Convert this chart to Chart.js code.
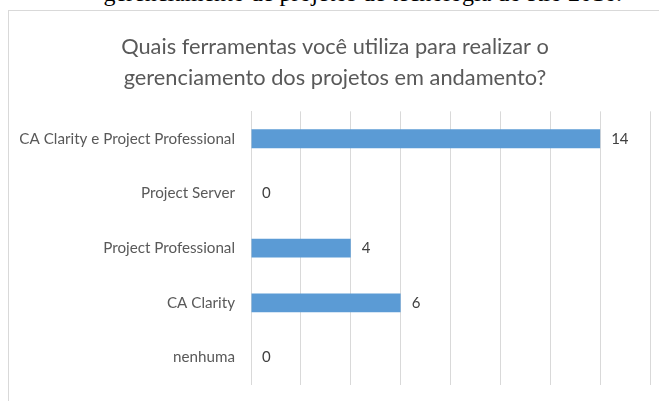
<!DOCTYPE html>
<html>
<head>
<meta charset="utf-8">
<script src="https://cdn.jsdelivr.net/npm/chart.js@4.4.0/dist/chart.umd.min.js"></script>
<style>
  html, body { margin: 0; padding: 0; background: #fff; overflow: hidden; width: 659px; height: 401px; }
  #topo {
    position: absolute; right: 37px; top: -20px;
    font-family: "Liberation Serif", serif; font-size: 24px; color: #000;
    white-space: nowrap;
  }
  #caixa {
    position: absolute; left: 8px; top: 10px; width: 660px; height: 400px;
    border-left: 1px solid #d9d9d9; border-top: 1px solid #d9d9d9;
  }
  #mycanvas { position: absolute; left: 0; top: 0; }
</style>
</head>
<body>
<div id="topo">gerenciamento de projetos de tecnologia do Rio 2016.</div>
<div id="caixa"><canvas id="mycanvas" width="656" height="399"></canvas></div>
<script>
var ferramentas = ['CA Clarity e Project Professional', 'Project Server', 'Project Professional', 'CA Clarity', 'nenhuma'];
var respostas = [14, 0, 4, 6, 0];
var escalaMax = 16;
var passo = 2;
var titulo = ['Quais ferramentas você utiliza para realizar o', 'gerenciamento dos projetos em andamento?'];

// rotulos com os valores ao lado das barras
var rotulos = {
  id: 'rotulos',
  afterDatasetsDraw: function(chart) {
    var ctx = chart.ctx;
    var meta = chart.getDatasetMeta(0);
    ctx.save();
    ctx.font = '15px Lato, "Open Sans", sans-serif';
    ctx.fillStyle = '#404040';
    ctx.textAlign = 'left';
    ctx.textBaseline = 'middle';
    meta.data.forEach(function(bar, i) {
      ctx.fillText(String(respostas[i]), bar.x + 11, bar.y);
    });
    ctx.restore();
  }
};

var chartdata = {
  labels: ferramentas,
  datasets: [
    {
      label: 'Respostas',
      backgroundColor: '#5b9bd5',
      borderWidth: 0,
      barPercentage: 0.345,
      categoryPercentage: 1,
      data: respostas
    }
  ]
};

var grafico = new Chart(document.getElementById('mycanvas'), {
  type: 'bar',
  data: chartdata,
  plugins: [rotulos],
  options: {
    indexAxis: 'y',
    responsive: false,
    animation: false,
    layout: { padding: { top: 0, right: 15, bottom: 0, left: 11 } },
    plugins: {
      legend: { display: false },
      tooltip: { enabled: false },
      title: {
        display: true,
        text: titulo,
        color: '#595959',
        font: { family: 'Lato, "Open Sans", sans-serif', size: 21.8, weight: 'normal', lineHeight: 1.43 },
        padding: { top: 20, bottom: 18 }
      }
    },
    scales: {
      x: {
        min: 0,
        max: escalaMax,
        ticks: { display: false, stepSize: passo },
        grid: { color: '#d9d9d9', lineWidth: 1, drawTicks: false },
        border: { display: false }
      },
      y: {
        afterFit: function(scale) { scale.width = 231; },
        ticks: {
          color: '#595959',
          font: { family: 'Lato, "Open Sans", sans-serif', size: 15.2 },
          padding: 16
        },
        grid: { display: false, drawTicks: false },
        border: { display: true, color: '#d9d9d9' }
      }
    }
  }
});
</script>
</body>
</html>
